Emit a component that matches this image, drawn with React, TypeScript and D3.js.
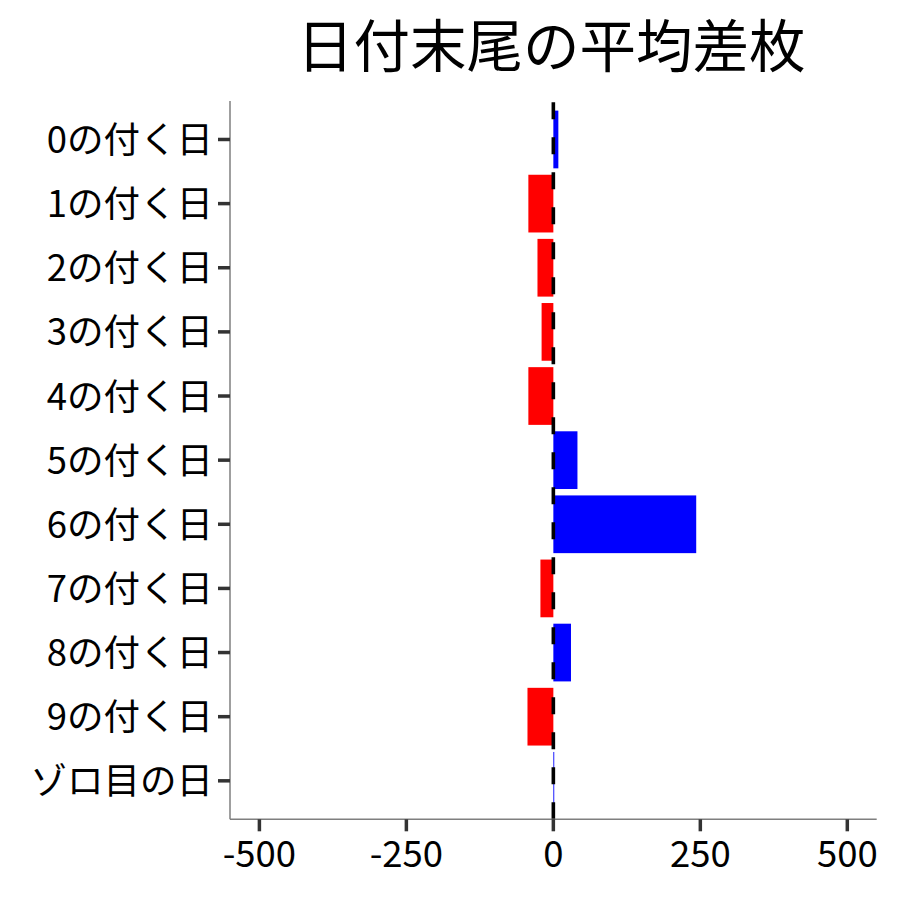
import React from "react";
import * as d3 from "d3";

const categories: string[] = [
  "0の付く日",
  "1の付く日",
  "2の付く日",
  "3の付く日",
  "4の付く日",
  "5の付く日",
  "6の付く日",
  "7の付く日",
  "8の付く日",
  "9の付く日",
  "ゾロ目の日",
];
const values: number[] = [8.5, -42.5, -27, -20, -42.5, 41, 243, -22, 30, -44, 1.5];
const xTicks: number[] = [-500, -250, 0, 250, 500];
const title = "日付末尾の平均差枚";

const W = 900;
const H = 900;
const left = 230;
const right = 876.7;
const top = 101;
const bottom = 819.3;
const FONT = "'Noto Sans CJK JP', 'Noto Sans', sans-serif";

export default function App() {
  const x = d3.scaleLinear().domain([-550, 550]).range([left, right]);
  const step = (bottom - top) / (categories.length - 1 + 1.2);
  const yPos = d3
    .scalePoint<string>()
    .domain(categories)
    .range([top + 0.6 * step, bottom - 0.6 * step]);
  const barH = step * 0.9;

  return (
    <svg
      width={W}
      height={H}
      style={{ position: "absolute", left: 0, top: 0, background: "#fff" }}
      fontFamily={FONT}
    >
      <rect x={0} y={0} width={W} height={H} fill="#fff" />
      <text
        x={(left + right) / 2 - 2}
        y={67}
        textAnchor="middle"
        fontSize={56.5}
        fill="#000"
      >
        {title}
      </text>
      {categories.map((c, i) => {
        const v = values[i];
        const x0 = x(Math.min(0, v));
        const x1 = x(Math.max(0, v));
        return (
          <rect
            key={c}
            x={x0}
            y={(yPos(c) as number) - barH / 2}
            width={Math.max(x1 - x0, 0.8)}
            height={barH}
            fill={v >= 0 ? "#0000ff" : "#ff0000"}
          />
        );
      })}
      <line
        x1={x(0)}
        x2={x(0)}
        y1={bottom}
        y2={top}
        stroke="#000"
        strokeWidth={3.6}
        strokeDasharray="17,18"
      />
      {/* axes */}
      <line x1={left} x2={left} y1={top} y2={bottom} stroke="#7f7f7f" strokeWidth={1.5} />
      <line x1={left} x2={right} y1={bottom} y2={bottom} stroke="#7f7f7f" strokeWidth={1.5} />
      {categories.map((c) => (
        <g key={"yt" + c}>
          <line
            x1={left - 12}
            x2={left}
            y1={yPos(c) as number}
            y2={yPos(c) as number}
            stroke="#333"
            strokeWidth={3.5}
          />
          <text
            x={left - 17}
            y={yPos(c) as number}
            dy="0.37em"
            textAnchor="end"
            fontSize={36.5}
            fill="#000"
          >
            {c}
          </text>
        </g>
      ))}
      {xTicks.map((t) => (
        <g key={"xt" + t}>
          <line
            x1={x(t)}
            x2={x(t)}
            y1={bottom}
            y2={bottom + 12}
            stroke="#333"
            strokeWidth={3.5}
          />
          <text x={x(t)} y={867} textAnchor="middle" fontSize={36.5} fill="#000">
            {t}
          </text>
        </g>
      ))}
    </svg>
  );
}
